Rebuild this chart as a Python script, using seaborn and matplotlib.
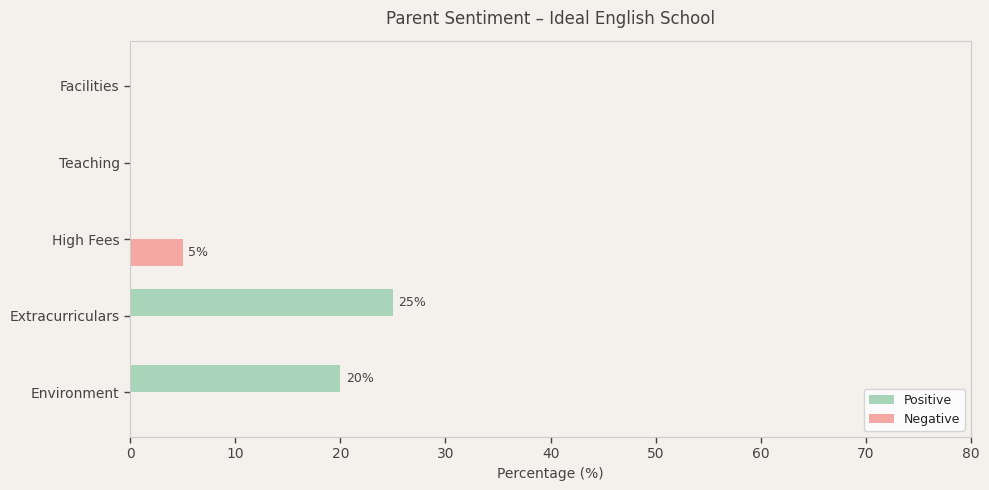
import pandas as pd
import matplotlib.pyplot as plt
import seaborn as sns

# Categories, top to bottom as drawn
aspects = ['Facilities', 'Teaching', 'High Fees', 'Extracurriculars', 'Environment']
positive = [0, 0, 0, 25, 20]
negative = [0, 0, 5, 0, 0]

df = pd.DataFrame({
    'Aspect': aspects * 2,
    'Sentiment': ['Positive'] * len(aspects) + ['Negative'] * len(aspects),
    'Percent': positive + negative,
})

bg = '#f4f0ec'
text_col = '#444444'
edge_col = '#cccccc'

sns.set_style('white')
plt.rcParams['font.family'] = ['DejaVu Sans']
plt.rcParams['text.color'] = text_col
plt.rcParams['axes.labelcolor'] = text_col
plt.rcParams['xtick.color'] = text_col
plt.rcParams['ytick.color'] = text_col

fig, ax = plt.subplots(figsize=(9.89, 4.9), dpi=100)
fig.patch.set_facecolor(bg)
ax.set_facecolor(bg)

sns.barplot(data=df, y='Aspect', x='Percent', hue='Sentiment', orient='h',
            order=aspects, hue_order=['Positive', 'Negative'],
            palette={'Positive': '#a8d5ba', 'Negative': '#f4a8a4'},
            saturation=1, linewidth=0, width=0.7, ax=ax)

# Value labels for non-zero bars
for cont in ax.containers:
    labels = [f'{b.get_width():.0f}%' if b.get_width() > 0 else '' for b in cont]
    ax.bar_label(cont, labels=labels, padding=4, fontsize=9, color=text_col)

ax.set_xlim(0, 80)
ax.set_ylim(4.585, -0.585)
ax.set_title('Parent Sentiment – Ideal English School', fontsize=12, color=text_col, pad=12)
ax.set_xlabel('Percentage (%)', fontsize=10)
ax.set_ylabel('')
ax.tick_params(axis='both', labelsize=10, length=4, width=1, left=True, bottom=True)

for spine in ax.spines.values():
    spine.set_visible(True)
    spine.set_color(edge_col)

leg = ax.legend(loc='lower right', fontsize=9, frameon=True)
leg.get_frame().set_facecolor('white')
leg.get_frame().set_edgecolor(edge_col)
for t in leg.get_texts():
    t.set_color('#222222')

fig.subplots_adjust(left=0.1315, right=0.982, top=0.916, bottom=0.108)
plt.savefig('out.png', dpi=100, facecolor=bg)
